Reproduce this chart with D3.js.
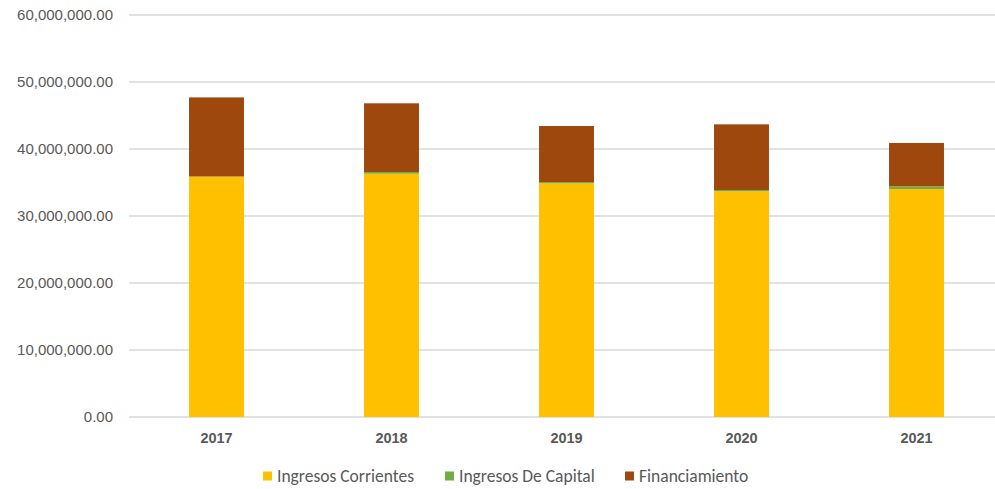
<!DOCTYPE html>
<html><head><meta charset="utf-8">
<script src="https://cdn.jsdelivr.net/npm/d3@7"></script>
<style>
body{margin:0;background:#fff;}
svg{display:block;font-family:Carlito,Calibri,"Liberation Sans",sans-serif;}
</style></head>
<body><svg id="c" width="995" height="489"></svg>
<script>
const years = ["2017","2018","2019","2020","2021"];
const ingresosCorrientes = [35870000, 36310000, 34880000, 33690000, 34030000];
const ingresosCapital   = [30000, 260000, 190000, 190000, 400000];
const financiamiento    = [11800000, 10250000, 8360000, 9800000, 6470000];
const yTicks = [0, 10000000, 20000000, 30000000, 40000000, 50000000, 60000000];
const seriesNames = ["Ingresos Corrientes","Ingresos De Capital","Financiamiento"];
const colors = ["#FFC000","#70AD47","#9E480E"];

const svg = d3.select("#c");
const x = d3.scaleBand().domain(years).range([129, 1004]).paddingInner(0.686).paddingOuter(0.343);
const y = d3.scaleLinear().domain([0, 60000000]).range([417, 15]);

// gridlines
svg.append("g").selectAll("line").data(yTicks).join("line")
  .attr("x1", 129).attr("x2", 1004)
  .attr("y1", d => y(d)).attr("y2", d => y(d))
  .attr("stroke", "#D9D9D9").attr("stroke-width", 1.3);

// y axis labels
const fmt = d3.format(",.2f");
const yAxis = d3.axisLeft(y).tickValues(yTicks).tickFormat(fmt).tickSize(0).tickPadding(16);
const ya = svg.append("g").attr("transform","translate(129,0)").call(yAxis);
ya.select(".domain").remove();
ya.selectAll("text").attr("fill","#595959").style("font-size","15px");

// stacked data
const rows = years.map((yr,i)=>({year:yr, a:ingresosCorrientes[i], b:ingresosCapital[i], c:financiamiento[i]}));
const stack = d3.stack().keys(["a","b","c"])(rows);
svg.append("g").selectAll("g").data(stack).join("g")
  .attr("fill", (d,i)=>colors[i])
  .selectAll("rect").data(d=>d).join("rect")
  .attr("x", d=>x(d.data.year)).attr("width", x.bandwidth())
  .attr("y", d=>y(d[1])).attr("height", d=>y(d[0])-y(d[1]));

// x axis labels
const xAxis = d3.axisBottom(x).tickSize(0).tickPadding(16);
const xa = svg.append("g").attr("transform","translate(0,417)").call(xAxis);
xa.select(".domain").remove();
xa.selectAll("text").attr("fill","#595959").style("font-size","14.5px").style("font-weight","bold");

// legend
const legX = [263, 445, 625];
const leg = svg.append("g").selectAll("g").data(seriesNames).join("g")
  .attr("transform",(d,i)=>`translate(${legX[i]},476)`);
leg.append("rect").attr("x",0).attr("y",-4.5).attr("width",9).attr("height",9).attr("fill",(d,i)=>colors[i]);
leg.append("text").attr("x",14).attr("y",0).attr("dy","0.35em").attr("fill","#595959")
  .style("font-size","17.5px").text(d=>d);
</script></body></html>
